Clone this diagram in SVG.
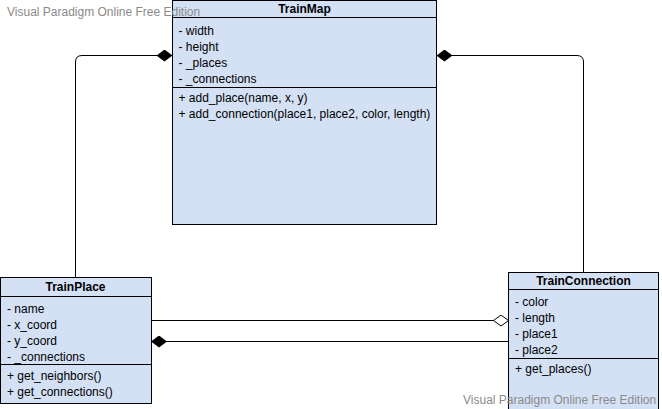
<svg xmlns="http://www.w3.org/2000/svg" width="662" height="409" viewBox="0 0 662 409">
<style>
.box{fill:#D4E1F5;stroke:#000;stroke-width:1}
.sep{stroke:#000;stroke-width:1}
.t{font-family:"Liberation Sans",Arial,sans-serif;font-size:12px;fill:#000}
.h{font-family:"Liberation Sans",Arial,sans-serif;font-size:12px;font-weight:bold;fill:#000;text-anchor:middle}
.wm{font-family:"Liberation Sans",Arial,sans-serif;font-size:12px;fill:#8a8a8a}
.ln{fill:none;stroke:#000;stroke-width:1}
</style>
<defs>
<marker id="fd" viewBox="0 0 16 12" refX="16" refY="6" markerWidth="16" markerHeight="12" markerUnits="userSpaceOnUse" orient="auto">
<path d="M0,6 L8,0 L16,6 L8,12 Z" fill="#000"/>
</marker>
<marker id="hd" viewBox="0 0 16 12" refX="15.5" refY="6" markerWidth="16" markerHeight="12" markerUnits="userSpaceOnUse" orient="auto">
<path d="M0.5,6 L8,0.5 L15.5,6 L8,11.5 Z" fill="#fff" stroke="#000" stroke-width="1"/>
</marker>
</defs>
<g id="connectors">
<path class="ln" d="M75.5,278 L75.5,62 Q75.5,55.5 82,55.5 L172.5,55.5" marker-end="url(#fd)"/>
<path class="ln" d="M583.5,272 L583.5,62 Q583.5,55.5 577,55.5 L436.5,55.5" marker-end="url(#fd)"/>
<path class="ln" d="M151,320.5 L508.5,320.5" marker-end="url(#hd)"/>
<path class="ln" d="M508.5,341.5 L151,341.5" marker-end="url(#fd)"/>
</g>
<g id="TrainMap">
<rect class="box" x="172.5" y="0.5" width="264" height="224"/>
<line class="sep" x1="172.5" y1="17.5" x2="436.5" y2="17.5"/>
<line class="sep" x1="172.5" y1="87.5" x2="436.5" y2="87.5"/>
<text class="h" x="304.5" y="12.5">TrainMap</text>
<text class="t" x="178.5" y="34.5">- width</text>
<text class="t" x="178.5" y="50.5">- height</text>
<text class="t" x="178.5" y="66.5">- _places</text>
<text class="t" x="178.5" y="82.5">- _connections</text>
<text class="t" x="178.5" y="102">+ add_place(name, x, y)</text>
<text class="t" x="178.5" y="118">+ add_connection(place1, place2, color, length)</text>
</g>
<g id="TrainPlace">
<rect class="box" x="0.5" y="277.5" width="151" height="126"/>
<line class="sep" x1="0.5" y1="296.5" x2="151.5" y2="296.5"/>
<line class="sep" x1="0.5" y1="364.5" x2="151.5" y2="364.5"/>
<text class="h" x="75.5" y="291">TrainPlace</text>
<text class="t" x="7" y="313">- name</text>
<text class="t" x="7" y="329">- x_coord</text>
<text class="t" x="7" y="345">- y_coord</text>
<text class="t" x="7" y="361">- _connections</text>
<text class="t" x="7" y="380">+ get_neighbors()</text>
<text class="t" x="7" y="396">+ get_connections()</text>
</g>
<g id="TrainConnection">
<rect class="box" x="508.5" y="272.5" width="150" height="140"/>
<line class="sep" x1="508.5" y1="289.5" x2="658.5" y2="289.5"/>
<line class="sep" x1="508.5" y1="358.5" x2="658.5" y2="358.5"/>
<text class="h" x="583.5" y="284.5">TrainConnection</text>
<text class="t" x="515" y="306">- color</text>
<text class="t" x="515" y="322">- length</text>
<text class="t" x="515" y="338">- place1</text>
<text class="t" x="515" y="354">- place2</text>
<text class="t" x="515" y="373">+ get_places()</text>
</g>
<g id="watermarks">
<text class="wm" x="7" y="16">Visual Paradigm Online Free Edition</text>
<text class="wm" x="463" y="404">Visual Paradigm Online Free Edition</text>
</g>
</svg>
